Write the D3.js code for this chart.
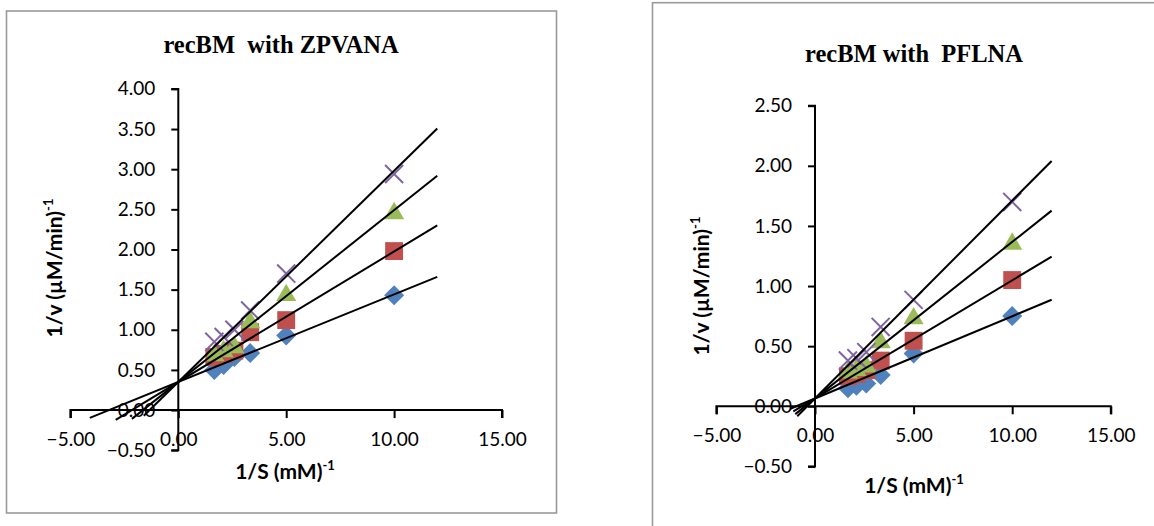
<!DOCTYPE html>
<html>
<head>
<meta charset="utf-8">
<script src="https://cdn.jsdelivr.net/npm/d3@7"></script>
<style>
  html, body { margin: 0; padding: 0; background: #fff; }
  svg { display: block; }
</style>
</head>
<body>
<svg id="chart" width="1154" height="526"></svg>
<script>
// ---------------- data ----------------
const xTicks = [-5, 0, 5, 10, 15];
const xValues = [1.67, 2.1, 2.6, 3.33, 5, 10];           // 1/S (mM)^-1
const seriesNames = ["s1", "s2", "s3", "s4"];
const seriesColors = ["#4F81BD", "#C0504D", "#9BBB59", "#8064A2"];
const seriesShapes = ["diamond", "square", "triangle", "x"];

// Left: recBM with ZPVANA
const leftTitle = "recBM  with ZPVANA";
const leftYTicks = [-0.5, 0, 0.5, 1, 1.5, 2, 2.5, 3, 3.5, 4];
const leftS1 = [0.50, 0.56, 0.66, 0.71, 0.93, 1.43];
const leftS2 = [0.66, 0.70, 0.74, 0.97, 1.12, 1.98];
const leftS3 = [0.68, 0.73, 0.78, 1.09, 1.43, 2.45];
const leftS4 = [0.85, 0.91, 1.00, 1.24, 1.70, 2.94];
const leftSlopes = [0.109, 0.1625, 0.214, 0.263];
const leftIntercepts = [0.35, 0.35, 0.35, 0.35];
const leftLineStart = [-4.1, -2.9, -2.15, -1.6];
const leftLineEnd = 12;

// Right: recBM with PFLNA
const rightTitle = "recBM with  PFLNA";
const rightYTicks = [-0.5, 0, 0.5, 1, 1.5, 2, 2.5];
const rightS1 = [0.15, 0.17, 0.19, 0.26, 0.44, 0.75];
const rightS2 = [0.25, 0.27, 0.30, 0.38, 0.545, 1.05];
const rightS3 = [0.28, 0.30, 0.33, 0.53, 0.73, 1.35];
const rightS4 = [0.38, 0.40, 0.45, 0.66, 0.885, 1.70];
const rightSlopes = [0.0684, 0.0983, 0.1302, 0.1646];
const rightIntercepts = [0.065, 0.065, 0.065, 0.065];
const rightLineStart = [-1.25, -1.1, -1.0, -0.9];
const rightLineEnd = 12;

const xLabel = "1/S (mM)";
const yLabel = "1/v (µM/min)";
const supText = "-1";

// ---------------- drawing ----------------
const svg = d3.select("#chart");
const tickFont = "Lato, 'Open Sans', sans-serif";

function symbolPath(shape) {
  if (shape === "diamond") return d3.symbol(d3.symbolSquare, 200)();
  if (shape === "square") return d3.symbol(d3.symbolSquare, 320)();
  if (shape === "triangle") return d3.symbol(d3.symbolTriangle, 175)();
  return d3.symbol(d3.symbolX, 215)();
}

function drawPanel(cfg) {
  const g = svg.append("g");
  // panel border
  g.append("rect")
    .attr("x", cfg.box[0]).attr("y", cfg.box[1])
    .attr("width", cfg.box[2]).attr("height", cfg.box[3])
    .attr("fill", "#fff").attr("stroke", "#9a9a9a").attr("stroke-width", 1.6);

  const x = d3.scaleLinear().domain([-5, 15]).range(cfg.xRange);
  const y = d3.scaleLinear().domain(cfg.yDomain).range(cfg.yRange);

  // title
  g.append("text")
    .attr("x", cfg.titlePos[0]).attr("y", cfg.titlePos[1])
    .attr("text-anchor", "middle")
    .attr("font-family", "'Liberation Serif', 'Times New Roman', serif")
    .attr("font-weight", "bold").attr("font-size", 24.5)
    .style("white-space", "pre")
    .text(cfg.title);

  // markers
  cfg.series.forEach((vals, i) => {
    const shape = seriesShapes[i];
    g.append("g").selectAll("path")
      .data(xValues.map((xv, j) => [xv, vals[j]]))
      .join("path")
      .attr("d", symbolPath(shape))
      .attr("transform", d => `translate(${x(d[0])},${y(d[1])})` + (shape === "diamond" ? " rotate(45)" : ""))
      .attr("fill", shape === "x" ? "none" : seriesColors[i])
      .attr("stroke", shape === "x" ? seriesColors[i] : "none")
      .attr("stroke-width", shape === "x" ? 2 : 0);
  });

  // axes
  const yAxis = d3.axisLeft(y).tickValues(cfg.yTicks).tickFormat(d3.format(".2f")).tickSize(7).tickPadding(16);
  const xAxis = d3.axisBottom(x).tickValues(xTicks).tickFormat(d3.format(".2f")).tickSize(8).tickPadding(cfg.xPad);

  const ya = g.append("g").attr("transform", `translate(${x(0)},0)`).call(yAxis);
  const xa = g.append("g").attr("transform", `translate(0,${y(0)})`).call(xAxis);
  [ya, xa].forEach(a => {
    a.select(".domain").attr("stroke", "#000").attr("stroke-width", 2);
    a.selectAll(".tick line").attr("stroke", "#000").attr("stroke-width", 2);
    a.selectAll(".tick text").attr("fill", "#000")
      .attr("font-family", tickFont).attr("font-size", 19);
  });
  ya.select(".domain").attr("d", `M-7,${y(cfg.yDomain[1])}H0V${y(cfg.yDomain[0])}H-7`).attr("fill", "none");
  xa.select(".domain").attr("d", `M${x(-5)},8V0H${x(15)}V8`).attr("fill", "none");

  // trend lines
  const lineGen = d3.line().x(d => x(d[0])).y(d => y(d[1]));
  cfg.slopes.forEach((m, i) => {
    const b = cfg.intercepts[i];
    const x0 = cfg.lineStart[i], x1 = cfg.lineEnd;
    g.append("path")
      .attr("d", lineGen([[x0, b + m * x0], [x1, b + m * x1]]))
      .attr("fill", "none").attr("stroke", "#000").attr("stroke-width", 2);
  });

  // x axis title
  const xt = g.append("text")
    .attr("x", cfg.xLabelPos[0]).attr("y", cfg.xLabelPos[1])
    .attr("text-anchor", "middle")
    .attr("font-family", tickFont).attr("font-weight", "bold").attr("font-size", 21);
  xt.append("tspan").text(xLabel);
  xt.append("tspan").attr("font-size", 13).attr("dy", -9).text(supText);

  // y axis title
  const yt = g.append("text")
    .attr("transform", `translate(${cfg.yLabelPos[0]},${cfg.yLabelPos[1]}) rotate(-90)`)
    .attr("text-anchor", "middle")
    .attr("font-family", tickFont).attr("font-weight", "bold").attr("font-size", 21);
  yt.append("tspan").text(yLabel);
  yt.append("tspan").attr("font-size", 13).attr("dy", -9).text(supText);
}

drawPanel({
  box: [6.5, 11, 550, 502],
  xRange: [70.4, 502],
  yDomain: [-0.5, 4],
  yRange: [450.2, 88.9],
  yTicks: leftYTicks,
  xPad: 14,
  title: leftTitle,
  titlePos: [281, 53],
  series: [leftS1, leftS2, leftS3, leftS4],
  slopes: leftSlopes,
  intercepts: leftIntercepts,
  lineStart: leftLineStart,
  lineEnd: leftLineEnd,
  xLabelPos: [285, 479],
  yLabelPos: [62, 268]
});

drawPanel({
  box: [652.5, 2.7, 520, 540],
  xRange: [716.4, 1110.8],
  yDomain: [-0.5, 2.5],
  yRange: [466.4, 105.7],
  yTicks: rightYTicks,
  xPad: 14,
  title: rightTitle,
  titlePos: [914, 62],
  series: [rightS1, rightS2, rightS3, rightS4],
  slopes: rightSlopes,
  intercepts: rightIntercepts,
  lineStart: rightLineStart,
  lineEnd: rightLineEnd,
  xLabelPos: [914, 493],
  yLabelPos: [709, 286]
});
</script>
</body>
</html>
